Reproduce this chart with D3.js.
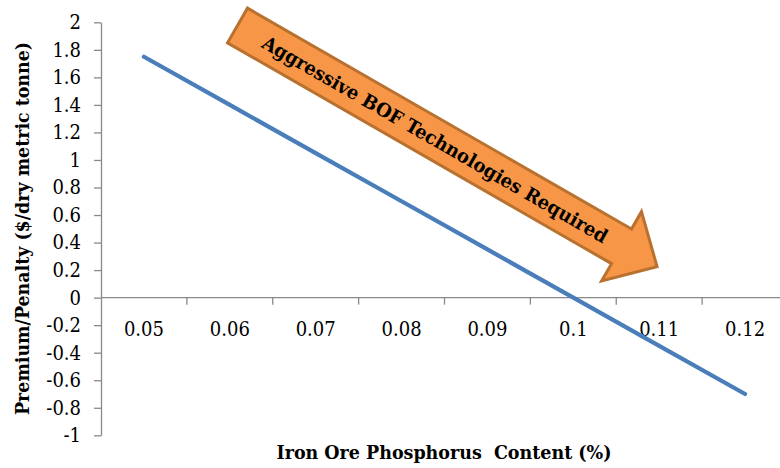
<!DOCTYPE html>
<html>
<head>
<meta charset="utf-8">
<script src="https://cdn.jsdelivr.net/npm/d3@7"></script>
<style>
  html, body { margin: 0; padding: 0; background: #fff; }
  svg { display: block; }
  .serif { font-family: "DejaVu Serif Condensed", "DejaVu Serif"; font-stretch: condensed; }
</style>
</head>
<body>
<div id="chart"></div>
<script>
// Phosphorus content categories (%) and premium/penalty values ($/dry metric tonne)
const categories = ["0.05", "0.06", "0.07", "0.08", "0.09", "0.1", "0.11", "0.12"];
const premium = [1.75, 1.4, 1.05, 0.7, 0.35, 0, -0.35, -0.7];
const yTicks = [2, 1.8, 1.6, 1.4, 1.2, 1, 0.8, 0.6, 0.4, 0.2, 0, -0.2, -0.4, -0.6, -0.8, -1];
const yTickLabels = yTicks.map(v => String(v));

const xTitle = "Iron Ore Phosphorus\u00A0 Content (%)";
const yTitle = "Premium/Penalty ($/dry metric tonne)";
const arrowLabel = "Aggressive BOF Technologies Required";

const W = 780, H = 468;
const plot = { left: 101, right: 788, top: 22.3, bottom: 435.3 };
const axisColor = "#898989";

const svg = d3.select("#chart").append("svg")
  .attr("width", W).attr("height", H);

const x = d3.scaleBand().domain(categories).range([plot.left, plot.right]).padding(0);
const y = d3.scaleLinear().domain([-1, 2]).range([plot.bottom, plot.top]);

// Vertical value axis
const yAxis = svg.append("g")
  .attr("transform", `translate(${plot.left},0)`)
  .call(d3.axisLeft(y).tickValues(yTicks).tickFormat((d, i) => yTickLabels[i])
    .tickSize(7).tickSizeOuter(0).tickPadding(13));
yAxis.attr("font-family", null).attr("font-size", 20);
yAxis.select(".domain").attr("stroke", axisColor).attr("stroke-width", 1.3);
yAxis.selectAll(".tick line").attr("stroke", axisColor).attr("stroke-width", 1.3);
yAxis.selectAll(".tick text").attr("fill", "#000").attr("class", "serif");

// Horizontal category axis crossing at zero, ticks between categories
const xAxisG = svg.append("g").attr("transform", `translate(0,${y(0)})`);
xAxisG.append("line")
  .attr("x1", plot.left).attr("x2", plot.right)
  .attr("stroke", axisColor).attr("stroke-width", 1.3);
const bounds = categories.map(c => x(c)).concat([x(categories[categories.length - 1]) + x.bandwidth()]);
xAxisG.selectAll("line.tick").data(bounds.slice(1)).join("line")
  .attr("class", "tick")
  .attr("x1", d => d).attr("x2", d => d)
  .attr("y1", 0).attr("y2", 7)
  .attr("stroke", axisColor).attr("stroke-width", 1.3);
xAxisG.selectAll("text.lbl").data(categories).join("text")
  .attr("class", "lbl serif")
  .attr("x", d => x(d) + x.bandwidth() / 2)
  .attr("y", 38)
  .attr("text-anchor", "middle")
  .attr("font-size", 20)
  .attr("fill", "#000")
  .text(d => d);

// Series line
const line = d3.line()
  .x((d, i) => x(categories[i]) + x.bandwidth() / 2)
  .y(d => y(d));
svg.append("path")
  .datum(premium)
  .attr("d", line)
  .attr("fill", "none")
  .attr("stroke", "#4A7EBB")
  .attr("stroke-width", 4.2)
  .attr("stroke-linecap", "round")
  .attr("stroke-linejoin", "round");

// Axis titles
svg.append("text")
  .attr("class", "serif")
  .attr("x", 444).attr("y", 459)
  .attr("text-anchor", "middle")
  .attr("font-size", 18).attr("font-weight", "bold")
  .attr("textLength", 335).attr("lengthAdjust", "spacingAndGlyphs")
  .attr("fill", "#000")
  .text(xTitle);

svg.append("text")
  .attr("class", "serif")
  .attr("transform", "translate(29,228.5) rotate(-90)")
  .attr("text-anchor", "middle")
  .attr("font-size", 18).attr("font-weight", "bold")
  .attr("textLength", 373).attr("lengthAdjust", "spacingAndGlyphs")
  .attr("fill", "#000")
  .text(yTitle);

// Block arrow annotation
const arrow = { x0: 237.5, y0: 25.5, angle: 29.9, length: 484, head: 41, shaftHalf: 20, headHalf: 40 };
const ag = svg.append("g")
  .attr("transform", `translate(${arrow.x0},${arrow.y0}) rotate(${arrow.angle})`);
const sEnd = arrow.length - arrow.head;
ag.append("path")
  .attr("d", `M0,${-arrow.shaftHalf} L${sEnd},${-arrow.shaftHalf} L${sEnd},${-arrow.headHalf} L${arrow.length},0 L${sEnd},${arrow.headHalf} L${sEnd},${arrow.shaftHalf} L0,${arrow.shaftHalf} Z`)
  .attr("fill", "#F79646")
  .attr("stroke", "#B8712F")
  .attr("stroke-width", 3)
  .attr("stroke-linejoin", "miter");
ag.append("text")
  .attr("class", "serif")
  .attr("x", 228).attr("y", 7)
  .attr("text-anchor", "middle")
  .attr("font-size", 19).attr("font-weight", "bold")
  .attr("textLength", 395).attr("lengthAdjust", "spacingAndGlyphs")
  .attr("fill", "#000")
  .text(arrowLabel);
</script>
</body>
</html>
